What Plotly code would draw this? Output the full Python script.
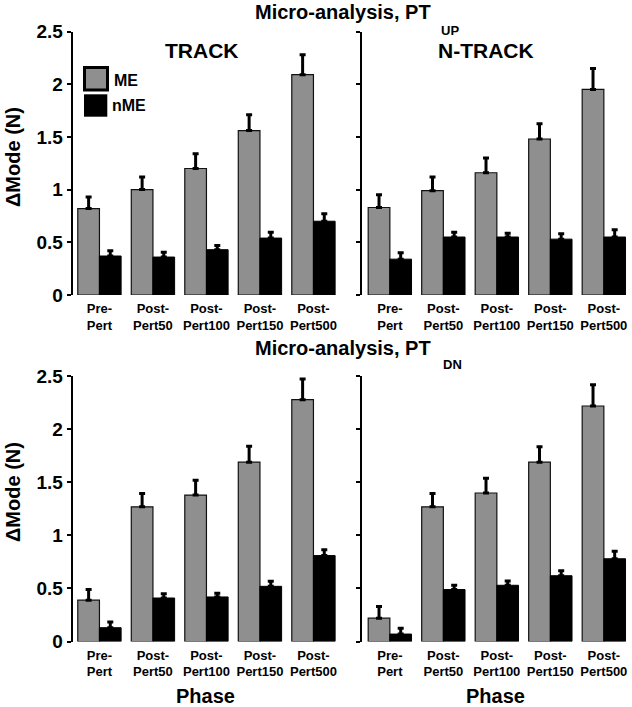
import plotly.graph_objects as go

W, H = 632, 707

categories = ["Pre-<br>Pert", "Post-<br>Pert50", "Post-<br>Pert100", "Post-<br>Pert150", "Post-<br>Pert500"]
y_tickvals = [0, 0.5, 1, 1.5, 2, 2.5]
y_ticktext = ["0", "0.5", "1", "1.5", "2", "2.5"]

# PT_UP, TRACK
up_track_me = [0.82, 1.00, 1.20, 1.56, 2.09]
up_track_me_err = [0.11, 0.12, 0.14, 0.15, 0.19]
up_track_nme = [0.37, 0.36, 0.43, 0.54, 0.70]
up_track_nme_err = [0.05, 0.045, 0.04, 0.055, 0.07]
# PT_UP, N-TRACK
up_ntrack_me = [0.83, 0.99, 1.16, 1.48, 1.95]
up_ntrack_me_err = [0.12, 0.13, 0.14, 0.145, 0.20]
up_ntrack_nme = [0.34, 0.55, 0.55, 0.53, 0.55]
up_ntrack_nme_err = [0.06, 0.045, 0.035, 0.05, 0.07]
# PT_DN, TRACK
dn_track_me = [0.39, 1.27, 1.38, 1.69, 2.28]
dn_track_me_err = [0.10, 0.125, 0.14, 0.15, 0.195]
dn_track_nme = [0.13, 0.41, 0.42, 0.52, 0.81]
dn_track_nme_err = [0.055, 0.04, 0.035, 0.047, 0.056]
# PT_DN, N-TRACK
dn_ntrack_me = [0.22, 1.27, 1.40, 1.69, 2.22]
dn_ntrack_me_err = [0.11, 0.125, 0.14, 0.145, 0.20]
dn_ntrack_nme = [0.07, 0.49, 0.53, 0.62, 0.78]
dn_ntrack_nme_err = [0.054, 0.04, 0.04, 0.047, 0.07]

GRAY = "#8f8f8f"
FONT = "Arial, Liberation Sans, sans-serif"


def px_x(p):
    return p / W


def px_y(p):
    return 1 - p / H


fig = go.Figure()

panels = [
    ("x", "y", up_track_me, up_track_me_err, up_track_nme, up_track_nme_err),
    ("x2", "y2", up_ntrack_me, up_ntrack_me_err, up_ntrack_nme, up_ntrack_nme_err),
    ("x3", "y3", dn_track_me, dn_track_me_err, dn_track_nme, dn_track_nme_err),
    ("x4", "y4", dn_ntrack_me, dn_ntrack_me_err, dn_ntrack_nme, dn_ntrack_nme_err),
]

for xa, ya, me, me_err, nme, nme_err in panels:
    fig.add_trace(go.Bar(
        x=categories, y=me, name="ME", xaxis=xa, yaxis=ya,
        marker=dict(color=GRAY, line=dict(color="#111111", width=1.2)),
        error_y=dict(type="data", symmetric=False, array=me_err, arrayminus=[0] * len(me),
                     color="black", thickness=3, width=3),
        showlegend=False,
    ))
    fig.add_trace(go.Bar(
        x=categories, y=nme, name="nME", xaxis=xa, yaxis=ya,
        marker=dict(color="black", line=dict(color="black", width=1)),
        error_y=dict(type="data", symmetric=False, array=nme_err, arrayminus=[0] * len(nme),
                     color="black", thickness=3, width=3),
        showlegend=False,
    ))

left_dom = [px_x(72.7), px_x(340.2)]
right_dom = [px_x(361.5), px_x(630.6)]
top_dom = [px_y(295), px_y(31.5)]
bot_dom = [px_y(641.5), px_y(376.3)]

xcommon = dict(showline=False, showgrid=False, zeroline=False, ticks="",
               tickfont=dict(family=FONT, size=13, color="black", weight="bold"),
               ticklabelstandoff=4,
               type="category", automargin=False)
ycommon = dict(range=[0, 2.5], showline=True, linecolor="black", linewidth=2,
               ticks="outside", ticklen=4, tickwidth=2, tickcolor="black",
               showgrid=False, zeroline=False, tickvals=y_tickvals, ticktext=y_ticktext,
               tickfont=dict(family=FONT, size=19, color="black", weight="bold"),
               automargin=False)

fig.update_layout(
    width=W, height=H,
    margin=dict(l=0, r=0, t=0, b=0, pad=0, autoexpand=False),
    paper_bgcolor="white", plot_bgcolor="white",
    barmode="group", bargap=0.19, bargroupgap=0,
    font=dict(family=FONT, color="black"),
    xaxis=dict(domain=left_dom, anchor="y", range=[-0.5, 4.5], **xcommon),
    xaxis2=dict(domain=right_dom, anchor="y2", range=[-0.53, 4.5], **xcommon),
    xaxis3=dict(domain=left_dom, anchor="y3", range=[-0.5, 4.5], **xcommon),
    xaxis4=dict(domain=right_dom, anchor="y4", range=[-0.53, 4.5], **xcommon),
    yaxis=dict(domain=top_dom, anchor="x", **ycommon),
    yaxis2=dict(domain=top_dom, anchor="x2", showticklabels=False, **ycommon),
    yaxis3=dict(domain=bot_dom, anchor="x3", **ycommon),
    yaxis4=dict(domain=bot_dom, anchor="x4", showticklabels=False, **ycommon),
)

ann = []


def text(x, y, s, size, angle=0, xanchor="center"):
    ann.append(dict(x=px_x(x), y=px_y(y), xref="paper", yref="paper", text=s,
                    showarrow=False, textangle=angle, xanchor=xanchor, yanchor="middle",
                    font=dict(family=FONT, size=size, color="black", weight="bold")))


# Titles
text(343, 12, "Micro-analysis, PT", 20)
text(450, 30, "UP", 13)
text(343, 348, "Micro-analysis, PT", 20)
text(452, 364, "DN", 13)
text(202, 50, "TRACK", 21)
text(486, 50, "N-TRACK", 21)
# Y labels
text(13, 157, "ΔMode (N)", 20, angle=-90)
text(13, 492, "ΔMode (N)", 20, angle=-90)
# X labels
text(205, 696, "Phase", 20)
text(495, 696, "Phase", 20)
# Legend text
text(112, 80, "ME", 16, xanchor="left")
text(110, 106, "nME", 16, xanchor="left")

fig.update_layout(annotations=ann)

# Legend swatches
fig.add_shape(type="rect", xref="paper", yref="paper",
              x0=px_x(84.5), x1=px_x(107.5), y0=px_y(90), y1=px_y(67.5),
              fillcolor=GRAY, line=dict(color="black", width=3))
fig.add_shape(type="rect", xref="paper", yref="paper",
              x0=px_x(84), x1=px_x(107.3), y0=px_y(116.7), y1=px_y(94.3),
              fillcolor="black", line=dict(color="black", width=0))

fig.write_html("out.html", config={"displayModeBar": False},
               post_script="document.body.style.margin='0px';document.body.style.overflow='hidden';")
